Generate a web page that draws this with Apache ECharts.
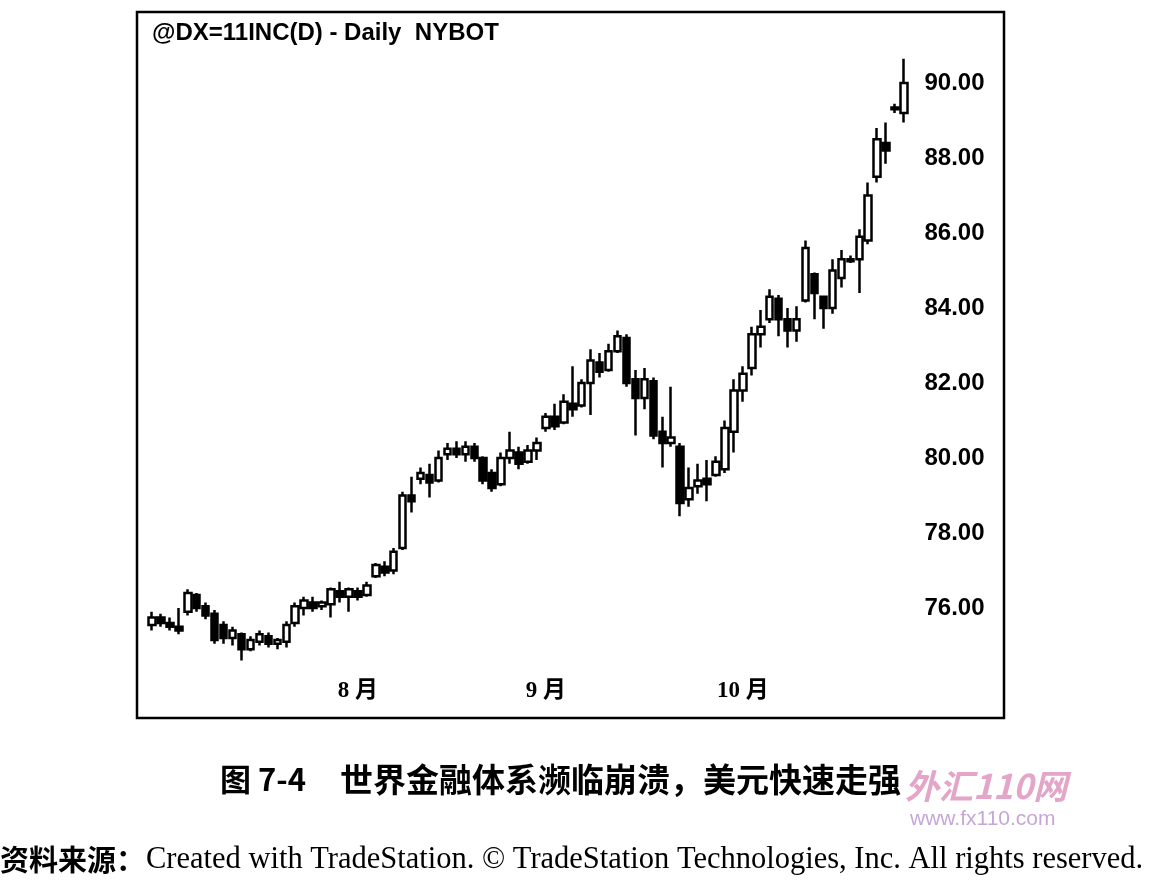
<!DOCTYPE html>
<html>
<head>
<meta charset="utf-8">
<title>@DX=11INC(D) - Daily NYBOT</title>
<script src="https://cdn.jsdelivr.net/npm/echarts@6.0.0/dist/echarts.min.js"></script>
<style>
  html, body { margin: 0; padding: 0; background: #fff; }
  #main { width: 1150px; height: 881px; }
</style>
</head>
<body>
<div id="main"></div>
<script>
// 交易日 (2008)
var dates = [
  '06-30',
  '07-01','07-02','07-03','07-07','07-08','07-09','07-10','07-11','07-14','07-15','07-16',
  '07-17','07-18','07-21','07-22','07-23','07-24','07-25','07-28','07-29','07-30','07-31',
  '08-01','08-04','08-05','08-06','08-07','08-08','08-11','08-12','08-13','08-14','08-15',
  '08-18','08-19','08-20','08-21','08-22','08-25','08-26','08-27','08-28','08-29',
  '09-01','09-02','09-03','09-04','09-05','09-08','09-09','09-10','09-11','09-12','09-15',
  '09-16','09-17','09-18','09-19','09-22','09-23','09-24','09-25','09-26','09-29','09-30',
  '10-01','10-02','10-03','10-06','10-07','10-08','10-09','10-10','10-13','10-14','10-15',
  '10-16','10-17','10-20','10-21','10-22','10-23','10-24','10-27'
];

var opens = [
  75.55,75.75,75.60,75.50,75.90,76.35,76.05,75.85,75.55,75.20,75.30,74.90,75.10,75.25,75.05,75.10,
  75.60,76.00,76.15,76.05,76.10,76.45,76.30,76.45,76.35,76.85,77.10,77.00,77.60,79.00,79.45,79.55,
  79.40,80.10,80.25,80.10,80.30,80.00,79.60,79.30,80.00,80.15,79.90,80.20,80.80,81.10,80.95,81.45,
  81.40,82.00,82.55,82.35,82.85,83.20,82.10,81.60,82.05,80.70,80.40,80.30,78.90,79.25,79.45,79.55,
  79.70,80.70,81.80,82.40,83.30,83.70,84.25,83.70,83.40,84.20,84.90,84.30,84.00,84.80,85.30,85.30,
  85.80,87.50,88.40,89.30,89.20
];
var closes = [
  75.75,75.60,75.50,75.40,76.40,76.00,75.80,75.15,75.20,75.40,74.90,75.15,75.30,75.05,75.15,75.55,
  76.05,76.20,76.00,76.15,76.50,76.30,76.50,76.30,76.60,77.15,76.95,77.50,79.00,78.85,79.60,79.35,
  80.00,80.25,80.10,80.30,80.00,79.40,79.20,80.00,80.20,79.85,80.20,80.40,81.10,80.85,81.50,81.30,
  82.00,82.60,82.30,82.85,83.25,82.00,81.60,82.10,80.60,80.40,80.55,78.80,79.20,79.40,79.30,79.90,
  80.80,81.80,82.25,83.30,83.50,84.30,83.70,83.40,83.70,85.60,84.40,84.00,85.00,85.30,85.25,85.90,
  87.00,88.50,88.20,89.35,90.00
];
var lows = [
  75.40,75.50,75.40,75.30,75.80,75.90,75.70,75.05,75.05,75.00,74.60,74.85,75.00,74.95,74.90,74.95,
  75.50,75.80,75.90,75.95,75.75,76.15,75.90,76.20,76.30,76.80,76.85,76.90,77.55,78.55,79.30,78.95,
  79.35,79.95,80.00,79.90,79.90,79.30,79.10,79.25,79.85,79.70,79.85,79.95,80.70,80.75,80.90,81.10,
  81.35,81.15,82.15,82.30,82.80,81.90,80.60,81.30,80.50,79.75,80.30,78.45,78.70,79.05,78.85,79.50,
  79.60,80.15,81.50,82.20,82.95,83.60,83.25,82.95,83.10,84.15,83.70,83.45,83.85,84.55,85.20,84.40,
  85.70,87.35,87.85,89.20,88.95
];
var highs = [
  75.90,75.85,75.75,76.00,76.50,76.40,76.15,75.95,75.65,75.50,75.35,75.25,75.40,75.35,75.20,75.65,
  76.15,76.30,76.30,76.20,76.55,76.70,76.55,76.55,76.70,77.20,77.25,77.60,79.10,79.50,79.75,79.85,
  80.20,80.40,80.45,80.45,80.40,80.05,79.70,80.15,80.70,80.30,80.35,80.55,81.20,81.45,81.70,82.45,
  82.10,82.90,82.80,83.05,83.40,83.30,82.35,82.40,82.15,81.10,81.90,80.40,79.75,79.85,79.95,80.05,
  81.00,82.10,82.45,83.50,83.95,84.50,84.35,84.00,84.05,85.80,84.95,84.30,85.30,85.55,85.40,86.10,
  87.35,88.80,88.95,89.45,90.65
];

// 月份刻度
var monthLabels = { '08-01': '8 月', '09-01': '9 月', '10-01': '10 月' };

var candles = dates.map(function (d, i) {
  return [opens[i], closes[i], lows[i], highs[i]];
});

var myChart = echarts.init(document.getElementById('main'));

myChart.setOption({
  backgroundColor: '#fff',
  animation: false,
  grid: {
    left: 147.5,
    right: 241.5,
    top: 8,
    bottom: 198
  },
  xAxis: {
    type: 'category',
    data: dates,
    boundaryGap: true,
    axisLine: { show: false },
    axisTick: { show: false },
    splitLine: { show: false },
    axisLabel: {
      interval: function (idx, val) { return monthLabels[val] !== undefined; },
      formatter: function (val) { return monthLabels[val] || ''; },
      margin: 8,
      verticalAlign: 'middle',
      color: '#000',
      fontSize: 23,
      fontWeight: 'bold',
      fontFamily: '"Liberation Serif", "Noto Sans CJK SC", serif'
    }
  },
  yAxis: {
    type: 'value',
    position: 'right',
    min: 74,
    max: 92,
    interval: 2,
    axisLine: { show: false },
    axisTick: { show: false },
    splitLine: { show: false },
    axisLabel: {
      margin: 16,
      color: '#000',
      fontSize: 24,
      fontWeight: 'bold',
      fontFamily: '"Liberation Sans", Arial, sans-serif',
      formatter: function (v) {
        if (v < 76 || v > 90) return '';
        return v.toFixed(2);
      }
    }
  },
  series: [{
    type: 'candlestick',
    data: candles,
    barWidth: 7,
    itemStyle: {
      color: '#fff',
      color0: '#000',
      borderColor: '#000',
      borderColor0: '#000',
      borderWidth: 2.5
    }
  }],
  graphic: [
    {
      // 图框
      type: 'rect',
      shape: { x: 137, y: 12, width: 867, height: 706 },
      style: { fill: 'none', stroke: '#000', lineWidth: 2.5 },
      silent: true
    },
    {
      type: 'text', x: 152, y: 33,
      style: {
        text: '@DX=11INC(D) - Daily  NYBOT',
        font: 'bold 24px "Liberation Sans", Arial, sans-serif',
        fill: '#000', textAlign: 'left', textVerticalAlign: 'middle',
        align: 'left', verticalAlign: 'middle'
      }
    },
    {
      type: 'text', x: 220, y: 779,
      style: {
        text: '图 7-4',
        font: 'bold 31px "Noto Sans CJK SC", "Liberation Serif", serif',
        fill: '#000', textAlign: 'left', textVerticalAlign: 'middle',
        align: 'left', verticalAlign: 'middle'
      }
    },
    {
      type: 'text', x: 340, y: 779,
      style: {
        text: '世界金融体系濒临崩溃，美元快速走强',
        font: 'bold 33px "Noto Sans CJK SC", serif',
        fill: '#000', textAlign: 'left', textVerticalAlign: 'middle',
        align: 'left', verticalAlign: 'middle'
      }
    },
    {
      // 水印
      type: 'text', x: 905, y: 786,
      style: {
        text: '外汇110网',
        font: 'italic bold 34px "Noto Sans CJK SC", sans-serif',
        fill: '#e3a6c8', textAlign: 'left', textVerticalAlign: 'middle',
        align: 'left', verticalAlign: 'middle'
      }
    },
    {
      type: 'text', x: 910, y: 819,
      style: {
        text: 'www.fx110.com',
        font: '21px "Liberation Sans", sans-serif',
        fill: '#c6a7d8', textAlign: 'left', textVerticalAlign: 'middle',
        align: 'left', verticalAlign: 'middle'
      }
    },
    {
      type: 'text', x: 0, y: 860,
      style: {
        text: '{cn|资料来源：}{en|Created with TradeStation. © TradeStation Technologies, Inc. All rights reserved.}',
        rich: {
          cn: { font: 'bold 29px "Noto Sans CJK SC", serif', fill: '#000', width: 146 },
          en: { font: '30.5px "Liberation Serif", "Times New Roman", serif', fill: '#000' }
        },
        fill: '#000', textAlign: 'left', textVerticalAlign: 'middle',
        align: 'left', verticalAlign: 'middle'
      }
    }
  ]
});
</script>
</body>
</html>
